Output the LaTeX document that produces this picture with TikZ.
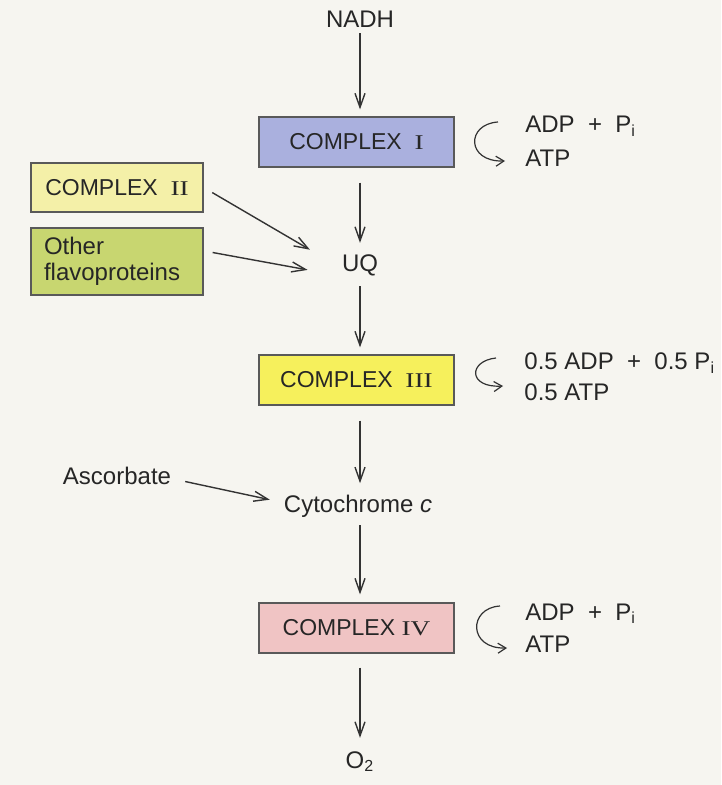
\documentclass[tikz,border=0pt]{standalone}
\usepackage{fontspec}
\setmainfont{Liberation Sans}
\newfontfamily\numfont{Liberation Serif}
\usetikzlibrary{arrows.meta}
\definecolor{paperbg}{RGB}{246,245,240}
\definecolor{cIfill}{RGB}{170,176,222}
\definecolor{cIIfill}{RGB}{244,240,168}
\definecolor{flavofill}{RGB}{200,214,112}
\definecolor{cIIIfill}{RGB}{246,240,92}
\definecolor{cIVfill}{RGB}{240,196,196}
\newcommand{\rnum}[1]{\scalebox{1.3}[1]{\numfont\fontsize{10.5}{12}\selectfont #1}}
\begin{document}
\begin{tikzpicture}[x=0.5pt,y=-0.5pt,
  lbl/.style={font=\fontsize{12}{14}\selectfont, text=black!85, inner sep=2pt},
  cbox/.style={lbl, font=\fontsize{11.5}{13}\selectfont, draw=black!65, line width=0.6pt,
    minimum width=97.5pt, minimum height=25pt},
  arr/.style={-{Straight Barb[length=7pt,width=5pt]}, line width=0.7pt, draw=black!80},
  curv/.style={-{Straight Barb[length=4pt,width=5pt]}, line width=0.6pt, draw=black!80}]
% paper
\fill[paperbg] (0,0) rectangle (721,785);
\useasboundingbox (0,0) rectangle (721,785);
% main chain
\node[lbl, anchor=base] (nadh) at (360,28) {NADH};
\node[cbox, fill=cIfill] (c1) at (356.5,142) {COMPLEX\ \ \rnum{I}};
\node[lbl, anchor=base] (uq) at (360,272) {UQ};
\node[cbox, fill=cIIIfill] (c3) at (356.5,380) {COMPLEX\ \ \rnum{III}};
\node[lbl, anchor=base] (cyt) at (358,512) {Cytochrome \textit{c}};
\node[cbox, fill=cIVfill] (c4) at (356.5,628) {COMPLEX\ \rnum{IV}};
\node[lbl, anchor=base] (o2) at (360,768) {O\textsubscript{2}};
% side inputs
\node[cbox, fill=cIIfill, minimum width=86pt, minimum height=24.5pt] (c2) at (117,187.5) {COMPLEX\ \ \rnum{II}};
\node[cbox, fill=flavofill, minimum width=86pt, minimum height=33.5pt, text width=73pt,
  align=left, font=\fontsize{12}{13}\selectfont] (flavo) at (117,261.5) {Other\\flavoproteins};
\node[lbl, anchor=base] (asc) at (117,484) {Ascorbate};
% phosphorylation sites
\node[lbl, anchor=base west] (adp1) at (521,133) {ADP\ \ +\ \ P\textsubscript{i}};
\node[lbl, anchor=base west] (atp1) at (521,167) {ATP};
\node[lbl, anchor=base west] (adp3) at (520,370) {0.5 ADP\ \ +\ \ 0.5 P\textsubscript{i}};
\node[lbl, anchor=base west] (atp3) at (520,400) {0.5 ATP};
\node[lbl, anchor=base west] (adp4) at (521,620) {ADP\ \ +\ \ P\textsubscript{i}};
\node[lbl, anchor=base west] (atp4) at (521,652) {ATP};

\draw[arr, shorten <=0.5pt, shorten >=3.5pt] (nadh) -- (nadh |- c1.north);
\draw[arr, shorten <=7.5pt, shorten >=4pt] (c1.south -| uq) -- (uq);
\draw[arr, shorten <=2.75pt, shorten >=3.5pt] (uq) -- (uq |- c3.north);
\draw[arr, shorten <=7.5pt, shorten >=3.5pt] (c3.south -| uq) -- (uq |- cyt.north);
\draw[arr, shorten <=2pt, shorten >=4pt] (uq |- cyt.south) -- (uq |- c4.north);
\draw[arr, shorten <=7pt, shorten >=4.5pt] (c4.south -| uq) -- (o2);

\draw[arr, shorten <=5pt, shorten >=16pt] (c2.east) -- (uq.west);
\draw[arr] ([xshift=4.5pt,yshift=4.5pt]flavo.east) -- ([xshift=-15pt,yshift=-2pt]uq.west);
\draw[arr, shorten <=5pt, shorten >=5pt] ([yshift=-2pt]asc.east) -- ([yshift=2pt]cyt.west);

% ATP loops
\coordinate (s1) at (498,122);
\coordinate (e1) at (505,161);
\draw[curv] (s1) .. controls (466,124) and (466,162) .. (e1);
\coordinate (s3) at (496,358);
\coordinate (e3) at (503,386);
\draw[curv] (s3) .. controls (468,361) and (468,388) .. (e3);
\coordinate (s4) at (500,606);
\coordinate (e4) at (507,648);
\draw[curv] (s4) .. controls (468,608) and (468,649) .. (e4);
\end{tikzpicture}
\end{document}
